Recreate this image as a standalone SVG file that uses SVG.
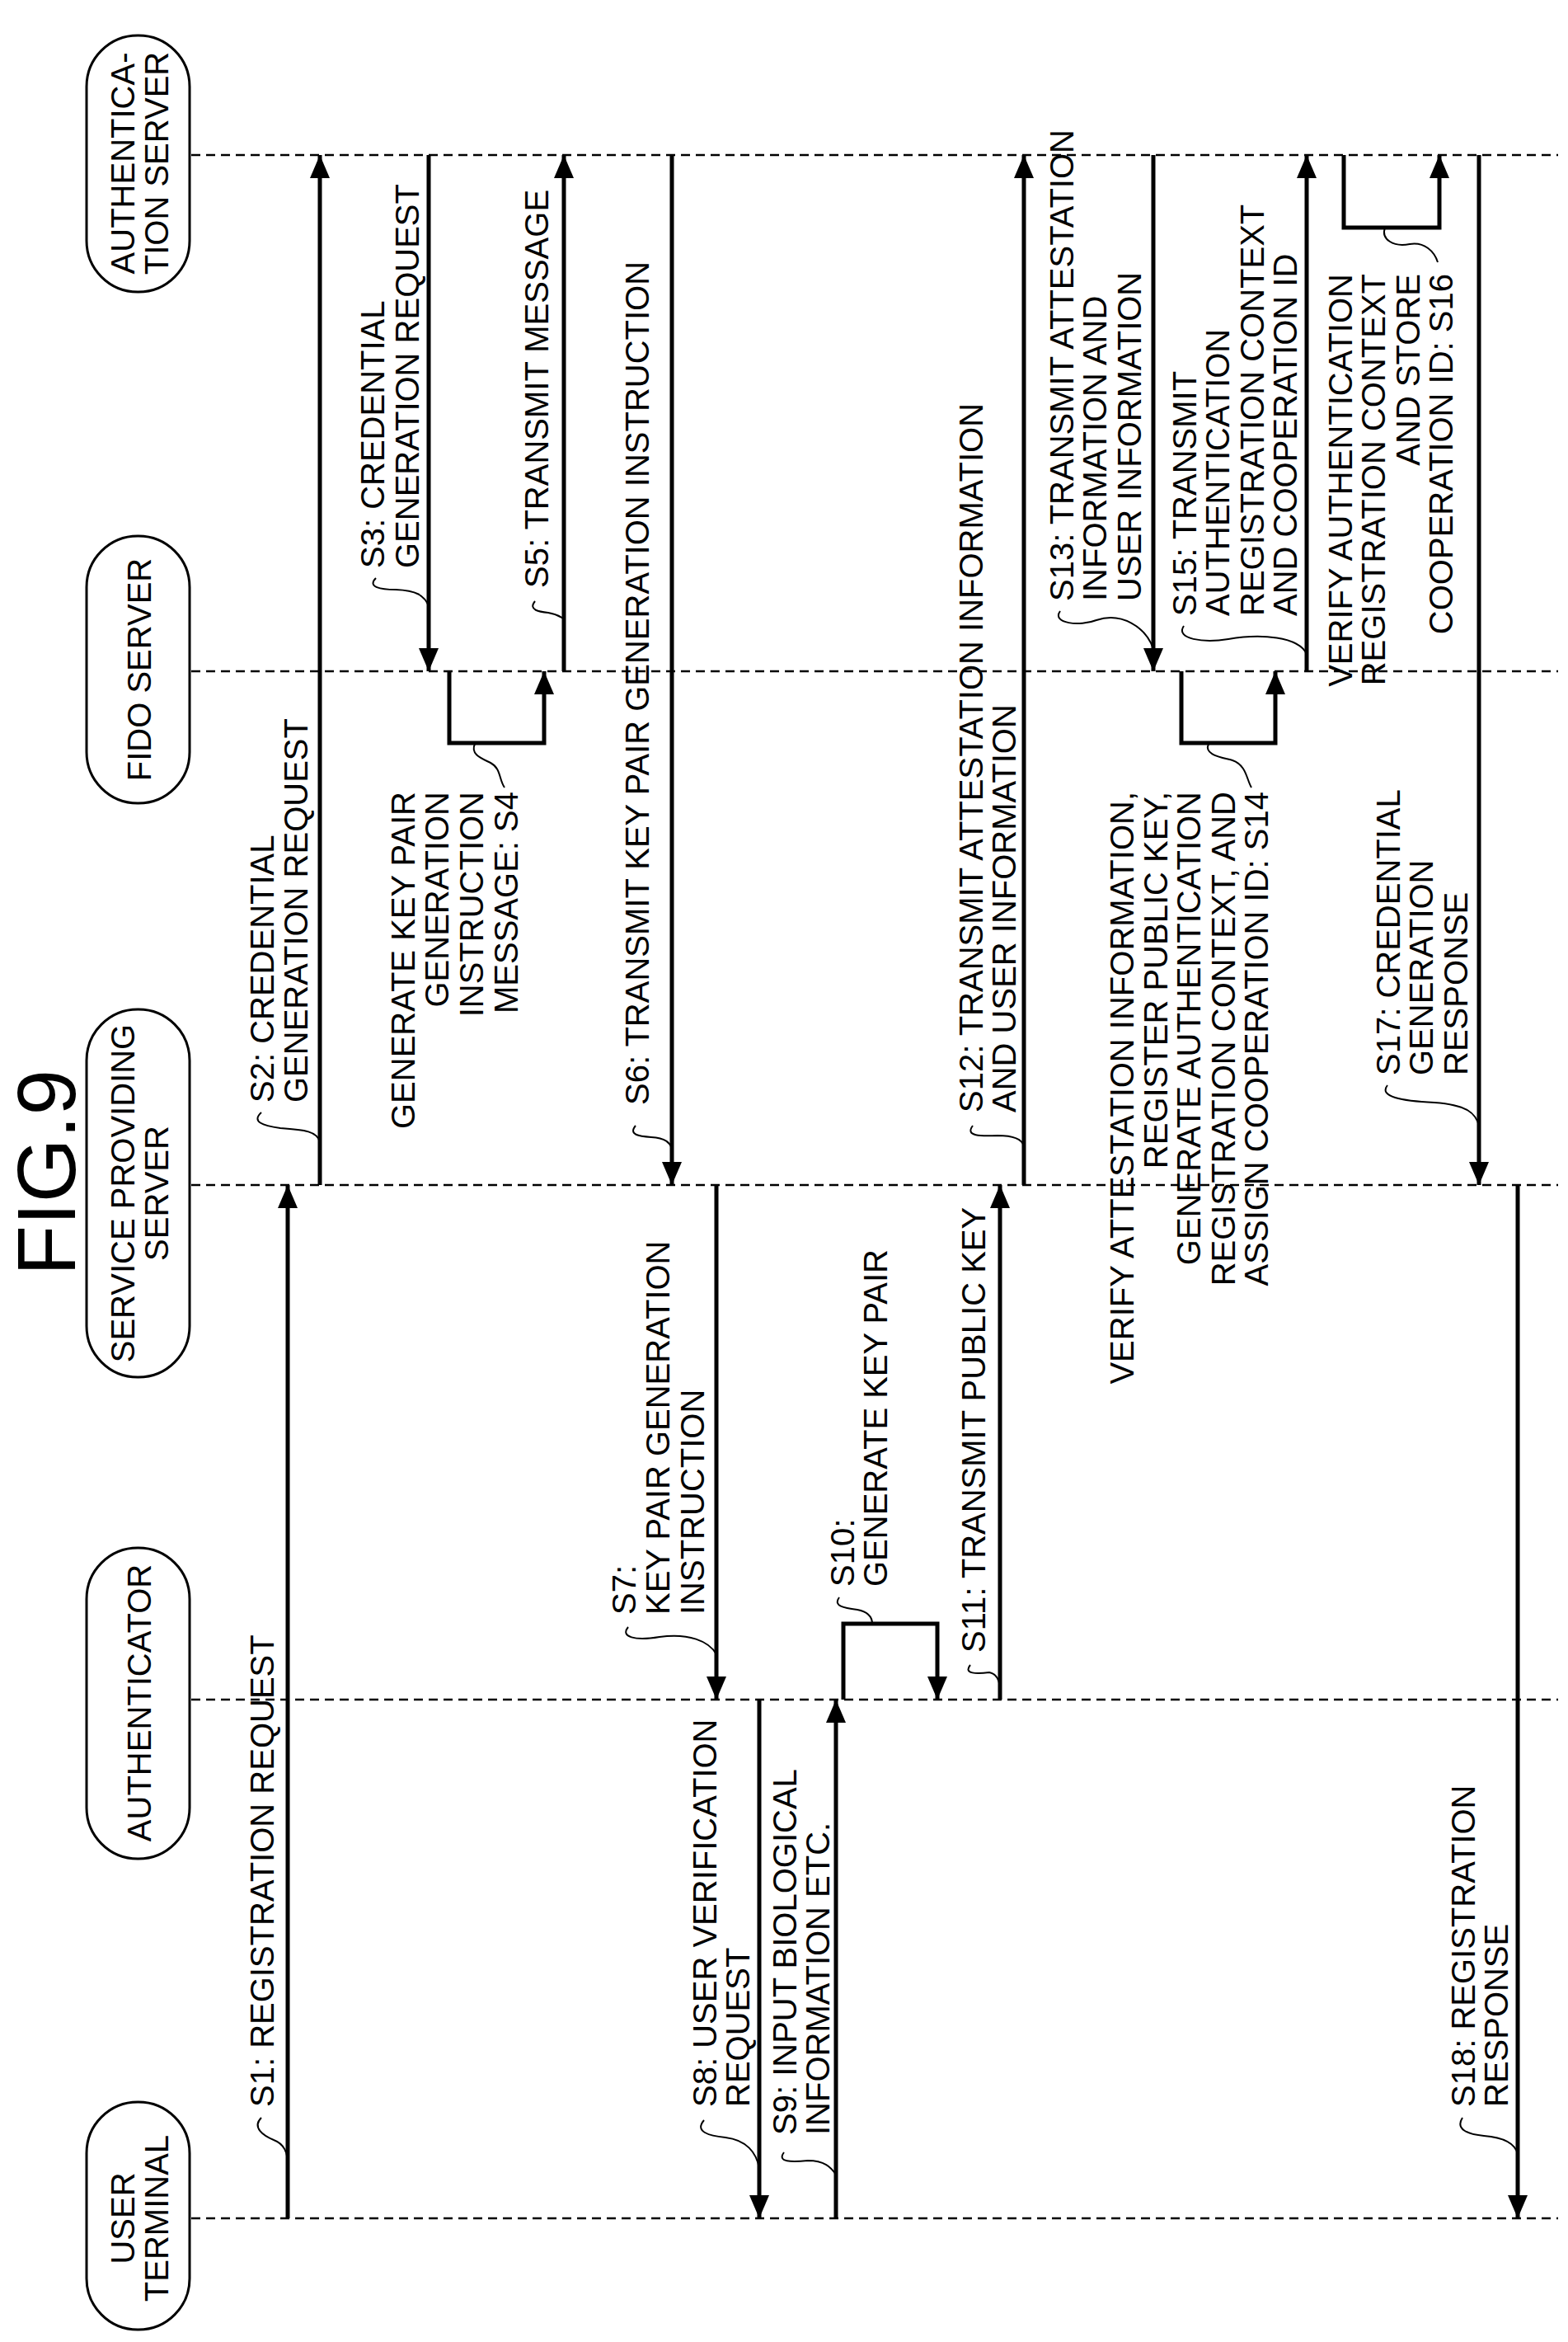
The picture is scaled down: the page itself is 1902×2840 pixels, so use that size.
<svg xmlns="http://www.w3.org/2000/svg" width="1902" height="2840" viewBox="0 0 1902 2840">
<defs>
<marker id="ah" markerUnits="userSpaceOnUse" markerWidth="30" markerHeight="26" refX="28" refY="12" orient="auto"><path d="M0,0 L28,12 L0,24 Z" fill="#000"/></marker>
</defs>
<style>
text{font-family:"Liberation Sans",Arial,sans-serif;font-size:40px;fill:#000}
.life{stroke:#000;stroke-width:2.5;stroke-dasharray:11 7;fill:none}
.msg{stroke:#000;stroke-width:5;fill:none;marker-end:url(#ah)}
.lead{stroke:#000;stroke-width:2;fill:none}
.pill{fill:#fff;stroke:#000;stroke-width:3}
</style>
<rect width="1902" height="2840" fill="#fff"/>
<text transform="translate(91,1422) rotate(-90)" text-anchor="middle" style="font-size:100px">FIG.9</text>
<g id="lifelines">
<line class="life" x1="232" y1="188" x2="1890" y2="188"/>
<line class="life" x1="232" y1="814" x2="1890" y2="814"/>
<line class="life" x1="232" y1="1437" x2="1890" y2="1437"/>
<line class="life" x1="232" y1="2061" x2="1890" y2="2061"/>
<line class="life" x1="232" y1="2690" x2="1890" y2="2690"/>
</g>
<g id="auth-server"><rect class="pill" x="105" y="43" width="125" height="311" rx="62"/>
<text transform="translate(163,198) rotate(-90)" text-anchor="middle">AUTHENTICA-<tspan x="0" dy="41">TION SERVER</tspan></text></g>
<g id="fido-server"><rect class="pill" x="105" y="650" width="125" height="324" rx="62"/>
<text transform="translate(183,812) rotate(-90)" text-anchor="middle">FIDO SERVER</text></g>
<g id="service-server"><rect class="pill" x="105" y="1224" width="125" height="446" rx="62"/>
<text transform="translate(163,1447) rotate(-90)" text-anchor="middle">SERVICE PROVIDING<tspan x="0" dy="41">SERVER</tspan></text></g>
<g id="authenticator"><rect class="pill" x="105" y="1877" width="125" height="377" rx="62"/>
<text transform="translate(183,2065) rotate(-90)" text-anchor="middle">AUTHENTICATOR</text></g>
<g id="user-terminal"><rect class="pill" x="105" y="2549" width="125" height="276" rx="62"/>
<text transform="translate(163,2690) rotate(-90)" text-anchor="middle">USER<tspan x="0" dy="41">TERMINAL</tspan></text></g>
<g id="connectors">
<line class="msg" x1="349" y1="2690" x2="349" y2="1437"/>
<line class="msg" x1="388" y1="1437" x2="388" y2="188"/>
<line class="msg" x1="520" y1="188" x2="520" y2="814"/>
<polyline class="msg" points="545,814 545,901 660,901 660,814"/>
<line class="msg" x1="684" y1="814" x2="684" y2="188"/>
<line class="msg" x1="815" y1="188" x2="815" y2="1437"/>
<line class="msg" x1="869" y1="1437" x2="869" y2="2061"/>
<line class="msg" x1="921" y1="2061" x2="921" y2="2690"/>
<line class="msg" x1="1014" y1="2690" x2="1014" y2="2061"/>
<polyline class="msg" points="1023,2061 1023,1969 1137,1969 1137,2061"/>
<line class="msg" x1="1213" y1="2061" x2="1213" y2="1437"/>
<line class="msg" x1="1242" y1="1437" x2="1242" y2="188"/>
<line class="msg" x1="1399" y1="188" x2="1399" y2="814"/>
<polyline class="msg" points="1433,814 1433,901 1547,901 1547,814"/>
<line class="msg" x1="1585" y1="814" x2="1585" y2="188"/>
<polyline class="msg" points="1630,188 1630,276 1746,276 1746,188"/>
<line class="msg" x1="1794" y1="188" x2="1794" y2="1437"/>
<line class="msg" x1="1841" y1="1437" x2="1841" y2="2690"/>
<path class="lead" d="M317,2568 C305,2580 320,2590 332,2595 C345,2600 349,2610 349,2626"/>
<path class="lead" d="M317,1349 C305,1360 318,1365 340,1368 C370,1370 385,1372 388,1385"/>
<path class="lead" d="M456,701 C445,712 462,715 480,715 C505,716 515,722 520,735"/>
<path class="lead" d="M576,902 C570,915 585,920 595,925 C608,932 605,945 612,955"/>
<path class="lead" d="M649,729 C640,740 655,742 665,743 C678,745 682,750 684,750"/>
<path class="lead" d="M771,1365 C762,1376 775,1378 790,1379 C808,1380 812,1386 815,1392"/>
<path class="lead" d="M762,1973 C752,1985 770,1990 800,1985 C835,1980 860,1990 869,2006"/>
<path class="lead" d="M854,2571 C842,2585 860,2590 880,2592 C905,2595 918,2610 921,2630"/>
<path class="lead" d="M951,2610 C942,2622 960,2622 980,2620 C1000,2620 1008,2628 1014,2637"/>
<path class="lead" d="M1018,1937 C1010,1948 1025,1950 1040,1952 C1055,1955 1058,1962 1058,1969"/>
<path class="lead" d="M1177,2019 C1168,2030 1185,2030 1200,2028 C1210,2030 1213,2040 1213,2050"/>
<path class="lead" d="M1180,1365 C1170,1378 1190,1378 1210,1377 C1232,1377 1240,1382 1242,1390"/>
<path class="lead" d="M1286,741 C1275,756 1310,760 1330,752 C1360,742 1390,760 1399,787"/>
<path class="lead" d="M1436,759 C1425,775 1460,780 1490,775 C1530,768 1575,772 1585,793"/>
<path class="lead" d="M1466,902 C1460,915 1480,918 1495,922 C1512,928 1512,945 1518,955"/>
<path class="lead" d="M1680,276 C1675,290 1690,300 1710,296 C1728,293 1740,305 1744,318"/>
<path class="lead" d="M1683,1316 C1672,1330 1700,1335 1740,1337 C1780,1340 1790,1350 1794,1365"/>
<path class="lead" d="M1774,2568 C1765,2582 1780,2588 1800,2590 C1825,2592 1838,2600 1841,2612"/>
</g>
<g id="labels">
<text transform="translate(332,2555) rotate(-90)">S1: REGISTRATION REQUEST</text>
<text transform="translate(332,1337) rotate(-90)">S2: CREDENTIAL<tspan x="0" dy="41">GENERATION REQUEST</tspan></text>
<text transform="translate(466,689) rotate(-90)">S3: CREDENTIAL<tspan x="0" dy="42">GENERATION REQUEST</tspan></text>
<text transform="translate(503,960) rotate(-90)" text-anchor="end">GENERATE KEY PAIR<tspan x="0" dy="41">GENERATION</tspan><tspan x="0" dy="42">INSTRUCTION</tspan><tspan x="0" dy="42">MESSAGE: S4</tspan></text>
<text transform="translate(665,713) rotate(-90)">S5: TRANSMIT MESSAGE</text>
<text transform="translate(787,1340) rotate(-90)">S6: TRANSMIT KEY PAIR GENERATION INSTRUCTION</text>
<text transform="translate(771,1958) rotate(-90)">S7:<tspan x="0" dy="41">KEY PAIR GENERATION</tspan><tspan x="0" dy="42">INSTRUCTION</tspan></text>
<text transform="translate(869,2555) rotate(-90)">S8: USER VERIFICATION<tspan x="0" dy="40">REQUEST</tspan></text>
<text transform="translate(966,2589) rotate(-90)">S9: INPUT BIOLOGICAL<tspan x="0" dy="40">INFORMATION ETC.</tspan></text>
<text transform="translate(1036,1924) rotate(-90)">S10:<tspan x="0" dy="40">GENERATE KEY PAIR</tspan></text>
<text transform="translate(1195,2004) rotate(-90)">S11: TRANSMIT PUBLIC KEY</text>
<text transform="translate(1192,1349) rotate(-90)">S12: TRANSMIT ATTESTATION INFORMATION<tspan x="0" dy="40">AND USER INFORMATION</tspan></text>
<text transform="translate(1302,729) rotate(-90)">S13: TRANSMIT ATTESTATION<tspan x="0" dy="40">INFORMATION AND</tspan><tspan x="0" dy="42">USER INFORMATION</tspan></text>
<text transform="translate(1375,960) rotate(-90)" text-anchor="end">VERIFY ATTESTATION INFORMATION,<tspan x="0" dy="41">REGISTER PUBLIC KEY,</tspan><tspan x="0" dy="40">GENERATE AUTHENTICATION</tspan><tspan x="0" dy="42">REGISTRATION CONTEXT, AND</tspan><tspan x="0" dy="40">ASSIGN COOPERATION ID: S14</tspan></text>
<text transform="translate(1451,747) rotate(-90)">S15: TRANSMIT<tspan x="0" dy="40">AUTHENTICATION</tspan><tspan x="0" dy="42">REGISTRATION CONTEXT</tspan><tspan x="0" dy="40">AND COOPERATION ID</tspan></text>
<text transform="translate(1640,332) rotate(-90)" text-anchor="end">VERIFY AUTHENTICATION<tspan x="0" dy="40">REGISTRATION CONTEXT</tspan><tspan x="0" dy="42">AND STORE</tspan><tspan x="0" dy="40">COOPERATION ID: S16</tspan></text>
<text transform="translate(1698,1304) rotate(-90)">S17: CREDENTIAL<tspan x="0" dy="40">GENERATION</tspan><tspan x="0" dy="42">RESPONSE</tspan></text>
<text transform="translate(1789,2555) rotate(-90)">S18: REGISTRATION<tspan x="0" dy="40">RESPONSE</tspan></text>
</g>
</svg>
